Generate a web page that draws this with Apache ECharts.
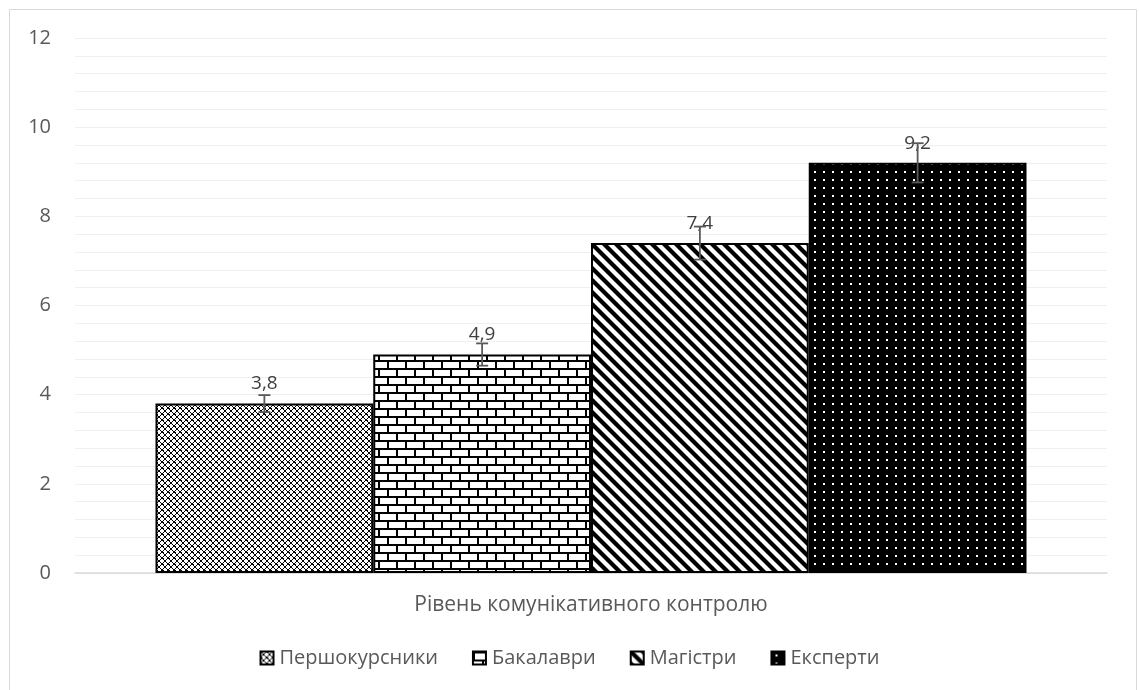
<!DOCTYPE html>
<html>
<head>
<meta charset="utf-8">
<script src="https://cdn.jsdelivr.net/npm/echarts@6/dist/echarts.min.js"></script>
<style>html,body{margin:0;padding:0;background:#fff;}#c{width:1139px;height:690px;}</style>
</head>
<body>
<div id="c"></div>
<script>
const categories = ['Рівень комунікативного контролю'];
const seriesNames = ['Першокурсники', 'Бакалаври', 'Магістри', 'Експерти'];
const values = [3.8, 4.9, 7.4, 9.2];
const errors = [0.19, 0.25, 0.37, 0.44];
const yTicks = [0, 2, 4, 6, 8, 10, 12];

function tile(w, h, draw) {
  const c = document.createElement('canvas');
  c.width = w; c.height = h;
  const g = c.getContext('2d');
  draw(g, w, h);
  return { image: c, repeat: 'repeat' };
}
const patterns = [
  tile(6, 6, (g, w, h) => {
    g.fillStyle = '#fff'; g.fillRect(0, 0, w, h);
    g.fillStyle = '#000';
    for (let i = 0; i < 6; i++) {
      g.fillRect(i, i, 1, 1);
      g.fillRect(5 - i, i, 1, 1);
    }
    g.fillRect(0, 0, 2, 1); g.fillRect(3, 3, 1, 1); g.fillRect(2, 2, 2, 2);
  }),
  tile(18, 16, (g, w, h) => {
    g.fillStyle = '#fff'; g.fillRect(0, 0, w, h);
    g.fillStyle = '#000';
    g.fillRect(0, 0, w, 2);
    g.fillRect(0, 8, w, 2);
    g.fillRect(0, 0, 2, 8);
    g.fillRect(9, 8, 2, 8);
  }),
  tile(12, 12, (g, w, h) => {
    g.fillStyle = '#fff'; g.fillRect(0, 0, w, h);
    g.strokeStyle = '#000'; g.lineWidth = 4.2;
    for (let k = -1; k <= 1; k++) {
      g.beginPath(); g.moveTo(k * w - 2, -2); g.lineTo(k * w + w + 2, h + 2); g.stroke();
    }
  }),
  tile(9, 8, (g, w, h) => {
    g.fillStyle = '#000'; g.fillRect(0, 0, w, h);
    g.fillStyle = '#fff'; g.fillRect(4, 3, 2, 2);
  })
];

const font = '"Open Sans", "Noto Sans", sans-serif';
const chart = echarts.init(document.getElementById('c'));

const barSeries = seriesNames.map((name, i) => ({
  name: name,
  type: 'bar',
  data: [values[i]],
  barGap: '0%',
  barCategoryGap: '15.6%',
  itemStyle: { color: patterns[i], borderColor: '#000', borderWidth: 2 },
  label: {
    show: true, position: 'top', distance: 10,
    color: '#404040', fontSize: 19, fontFamily: font,
    formatter: p => String(p.value).replace('.', ',')
  },
  emphasis: { disabled: true }
}));

const errSeries = {
  type: 'custom',
  name: 'err',
  silent: true,
  z: 10,
  data: values.map((v, i) => [0, v, errors[i], i]),
  renderItem: function (params, api) {
    const idx = api.value(3);
    const v = api.value(1), e = api.value(2);
    const band = api.size([1, 0])[0];
    const bw = band * (1 - 0.156) / 4;
    const cx = api.coord([0, v])[0] + (idx - 1.5) * bw;
    const top = api.coord([0, v + e])[1];
    const bot = api.coord([0, v - e])[1];
    const cap = 6;
    const st = { stroke: '#595959', lineWidth: 1.8 };
    return {
      type: 'group',
      children: [
        { type: 'line', shape: { x1: cx, y1: top, x2: cx, y2: bot }, style: st },
        { type: 'line', shape: { x1: cx - cap, y1: top, x2: cx + cap, y2: top }, style: st },
        { type: 'line', shape: { x1: cx - cap, y1: bot, x2: cx + cap, y2: bot }, style: st }
      ]
    };
  }
};

chart.setOption({
  animation: false,
  backgroundColor: '#fff',
  graphic: [{
    type: 'rect', shape: { x: 9.5, y: 9.5, width: 1127, height: 700 },
    style: { fill: 'none', stroke: '#d9d9d9', lineWidth: 1 }, silent: true
  }],
  grid: { left: 75, right: 32, top: 38, bottom: 117 },
  legend: {
    data: seriesNames,
    bottom: 17,
    left: 'center',
    itemWidth: 13, itemHeight: 13, itemGap: 34,
    icon: 'rect',
    textStyle: { color: '#595959', fontSize: 20, fontFamily: font, padding: [0, 0, 0, 1] }
  },
  xAxis: {
    type: 'category',
    data: categories,
    axisLine: { lineStyle: { color: '#d9d9d9', width: 1.5 } },
    axisTick: { show: false },
    axisLabel: { color: '#595959', fontSize: 21, fontFamily: font, margin: 22 }
  },
  yAxis: {
    type: 'value',
    min: yTicks[0], max: yTicks[yTicks.length - 1], interval: 2,
    axisLine: { show: false },
    axisTick: { show: false },
    axisLabel: { color: '#595959', fontSize: 20, fontFamily: font, margin: 24 },
    splitLine: { lineStyle: { color: '#efefef', width: 1 } },
    minorTick: { show: false, splitNumber: 5 },
    minorSplitLine: { show: true, lineStyle: { color: '#efefef', width: 1 } }
  },
  series: barSeries.concat([errSeries])
});
</script>
</body>
</html>
